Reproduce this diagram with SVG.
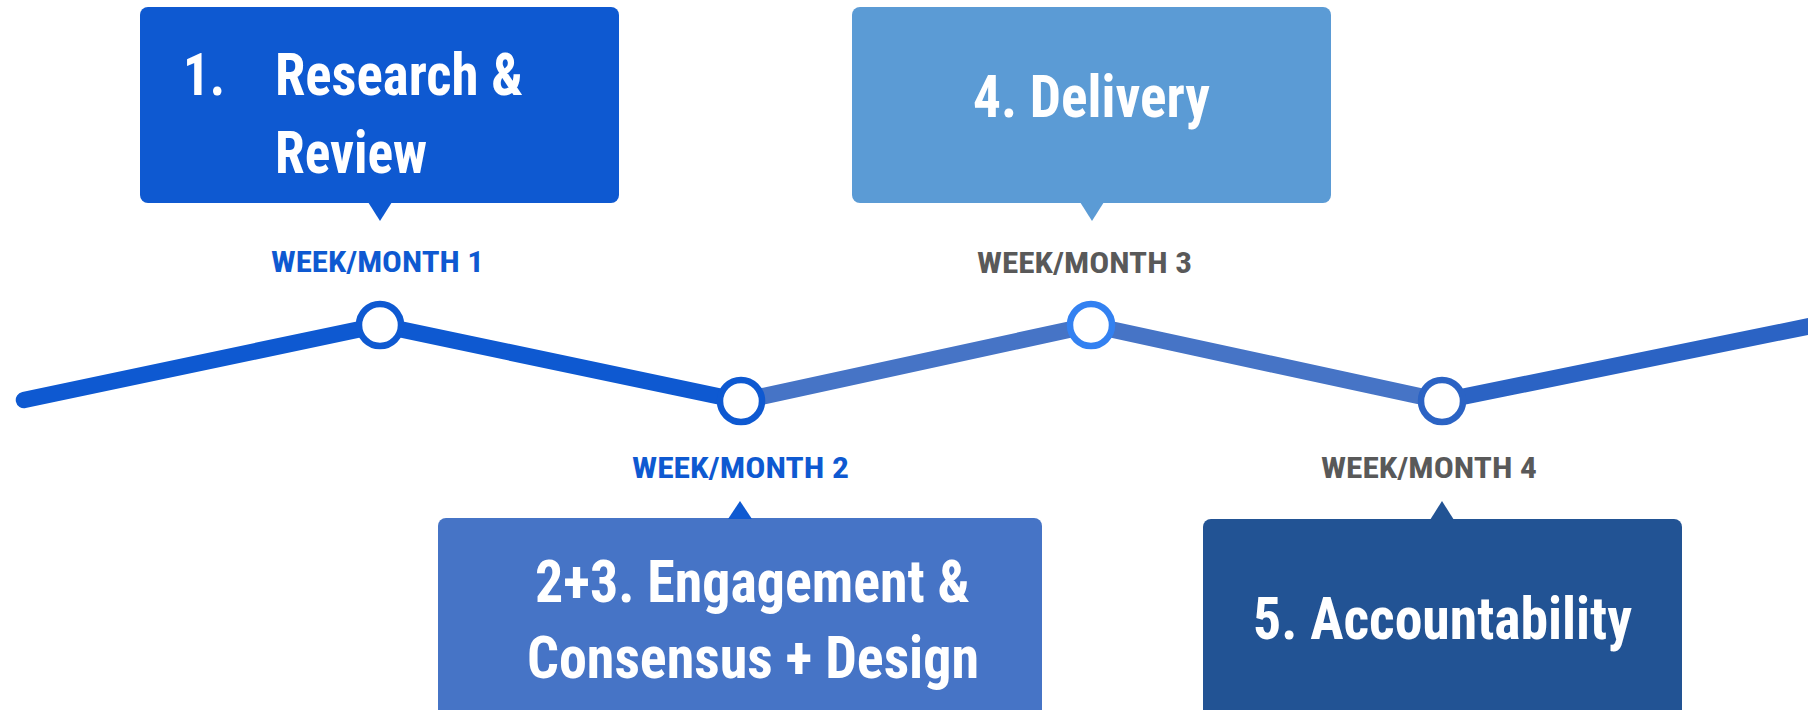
<svg xmlns="http://www.w3.org/2000/svg" width="1808" height="710" viewBox="0 0 1808 710">
  <style>
    .title { font-family: "Roboto Condensed", Roboto, "Liberation Sans", sans-serif; font-weight: 700; font-size: 59px; fill: #ffffff; font-stretch: condensed; }
    .week { font-family: "Roboto Condensed", Roboto, "Liberation Sans", sans-serif; font-weight: 700; font-size: 30px; font-stretch: condensed; }
    .seg { fill: none; stroke-width: 16.5; stroke-linecap: round; stroke-linejoin: round; }
    .dot { fill: #ffffff; stroke-width: 6.5; }
  </style>
  <rect width="1808" height="710" fill="#ffffff"/>

  <g id="connectors">
    <polyline class="seg" points="24,400 380,325 741,401" stroke="#0E59D1"/>
    <polyline class="seg" points="741,401 1091,325 1442,401" stroke="#4674C6" stroke-linecap="butt"/>
    <polyline class="seg" points="1442,401 1830,322" stroke="#2B63C4" stroke-linecap="butt"/>
  </g>

  <g id="node-1">
    <rect x="140" y="7" width="479" height="196" rx="8" fill="#0E59D1"/>
    <polygon points="368,202 392,202 380,221" fill="#0E59D1"/>
    <text class="title" x="183" y="95" textLength="42" lengthAdjust="spacingAndGlyphs">1.</text>
    <text class="title" x="275" y="95" textLength="248" lengthAdjust="spacingAndGlyphs">Research &amp;</text>
    <text class="title" x="275" y="173" textLength="152" lengthAdjust="spacingAndGlyphs">Review</text>
  </g>

  <g id="node-4">
    <rect x="852" y="7" width="479" height="196" rx="8" fill="#5B9BD5"/>
    <polygon points="1080,202 1104,202 1092,221" fill="#5B9BD5"/>
    <text class="title" x="973" y="117" textLength="237" lengthAdjust="spacingAndGlyphs">4. Delivery</text>
  </g>

  <g id="node-23">
    <rect x="438" y="518" width="604" height="210" rx="8" fill="#4674C6"/>
    <polygon points="728,519 752,519 740,501" fill="#0E59D1"/>
    <text class="title" x="535" y="602" textLength="435" lengthAdjust="spacingAndGlyphs">2+3. Engagement &amp;</text>
    <text class="title" x="527" y="678" textLength="452" lengthAdjust="spacingAndGlyphs">Consensus + Design</text>
  </g>

  <g id="node-5">
    <rect x="1203" y="519" width="479" height="210" rx="8" fill="#225394"/>
    <polygon points="1430,520 1454,520 1442,501" fill="#225394"/>
    <text class="title" x="1253" y="639" textLength="379" lengthAdjust="spacingAndGlyphs">5. Accountability</text>
  </g>

  <g id="marker-1">
    <circle class="dot" cx="380" cy="325" r="21" stroke="#0E59D1"/>
    <text class="week" x="271" y="272" fill="#0E59D1" textLength="213" lengthAdjust="spacingAndGlyphs">WEEK/MONTH 1</text>
  </g>
  <g id="marker-2">
    <circle class="dot" cx="741" cy="401" r="21" stroke="#0E59D1"/>
    <text class="week" x="632" y="478" fill="#0E59D1" textLength="217" lengthAdjust="spacingAndGlyphs">WEEK/MONTH 2</text>
  </g>
  <g id="marker-3">
    <circle class="dot" cx="1091" cy="325" r="21" stroke="#3381F1"/>
    <text class="week" x="977" y="273" fill="#595959" textLength="215" lengthAdjust="spacingAndGlyphs">WEEK/MONTH 3</text>
  </g>
  <g id="marker-4">
    <circle class="dot" cx="1442" cy="401" r="21" stroke="#2B63C4"/>
    <text class="week" x="1321" y="478" fill="#595959" textLength="216" lengthAdjust="spacingAndGlyphs">WEEK/MONTH 4</text>
  </g>
</svg>
